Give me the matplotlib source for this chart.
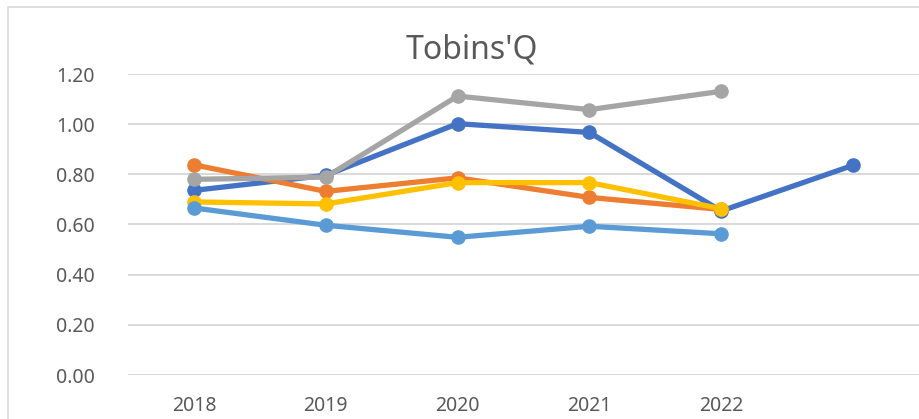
import matplotlib
matplotlib.use("Agg")
import matplotlib.pyplot as plt
from matplotlib.patches import Rectangle

plt.rcParams['font.family'] = ['Noto Sans', 'DejaVu Sans']

categories = ["2018", "2019", "2020", "2021", "2022", ""]
series_blue = [0.736, 0.796, 1.002, 0.967, 0.654, 0.836]
series_orange = [0.838, 0.732, 0.786, 0.708, 0.660, None]
series_gray = [0.780, 0.789, 1.112, 1.058, 1.131, None]
series_yellow = [0.690, 0.682, 0.767, 0.767, 0.663, None]
series_lightblue = [0.666, 0.597, 0.549, 0.593, 0.563, None]
yticks = [0.0, 0.2, 0.4, 0.6, 0.8, 1.0, 1.2]
title = "Tobins'Q"

series = [
    (series_blue, "#4472C4"),
    (series_orange, "#ED7D31"),
    (series_gray, "#A5A5A5"),
    (series_yellow, "#FFC000"),
    (series_lightblue, "#5B9BD5"),
]

W, H = 919, 419
fig = plt.figure(figsize=(W / 100, H / 100), dpi=100)

# chart area border (cropped on right/bottom)
fig.patches.append(Rectangle((8 / W, -0.1), 1.2, (H - 7) / H + 0.1,
                             transform=fig.transFigure, fill=False,
                             edgecolor="#D9D9D9", linewidth=1.2))

ax = fig.add_axes([128 / W, (H - 375) / H, 791 / W, (375 - 74) / H])
x = list(range(len(categories)))

for vals, color in series:
    xs = [xi for xi, v in zip(x, vals) if v is not None]
    ys = [v for v in vals if v is not None]
    ax.plot(xs, ys, color=color, linewidth=3.8, marker="o", markersize=9.5,
            solid_capstyle="round", clip_on=False)

ax.set_xlim(-0.5, 5.5)
ax.set_ylim(0, 1.2)
ax.set_yticks(yticks)
ax.set_yticklabels([f"{v:.2f}" for v in yticks])
ax.set_xticks(x)
ax.set_xticklabels(categories)
ax.tick_params(axis="both", length=0, labelsize=14, labelcolor="#595959")
ax.tick_params(axis="y", pad=24)
ax.tick_params(axis="x", pad=15)
ax.grid(axis="y", color="#D9D9D9", linewidth=1.4)
ax.set_axisbelow(True)
for s in ax.spines.values():
    s.set_visible(False)

fig.text(472 / W, (H - 50) / H, title, ha="center", va="center",
         fontsize=23, color="#595959")

fig.savefig("out.png", dpi=100)
